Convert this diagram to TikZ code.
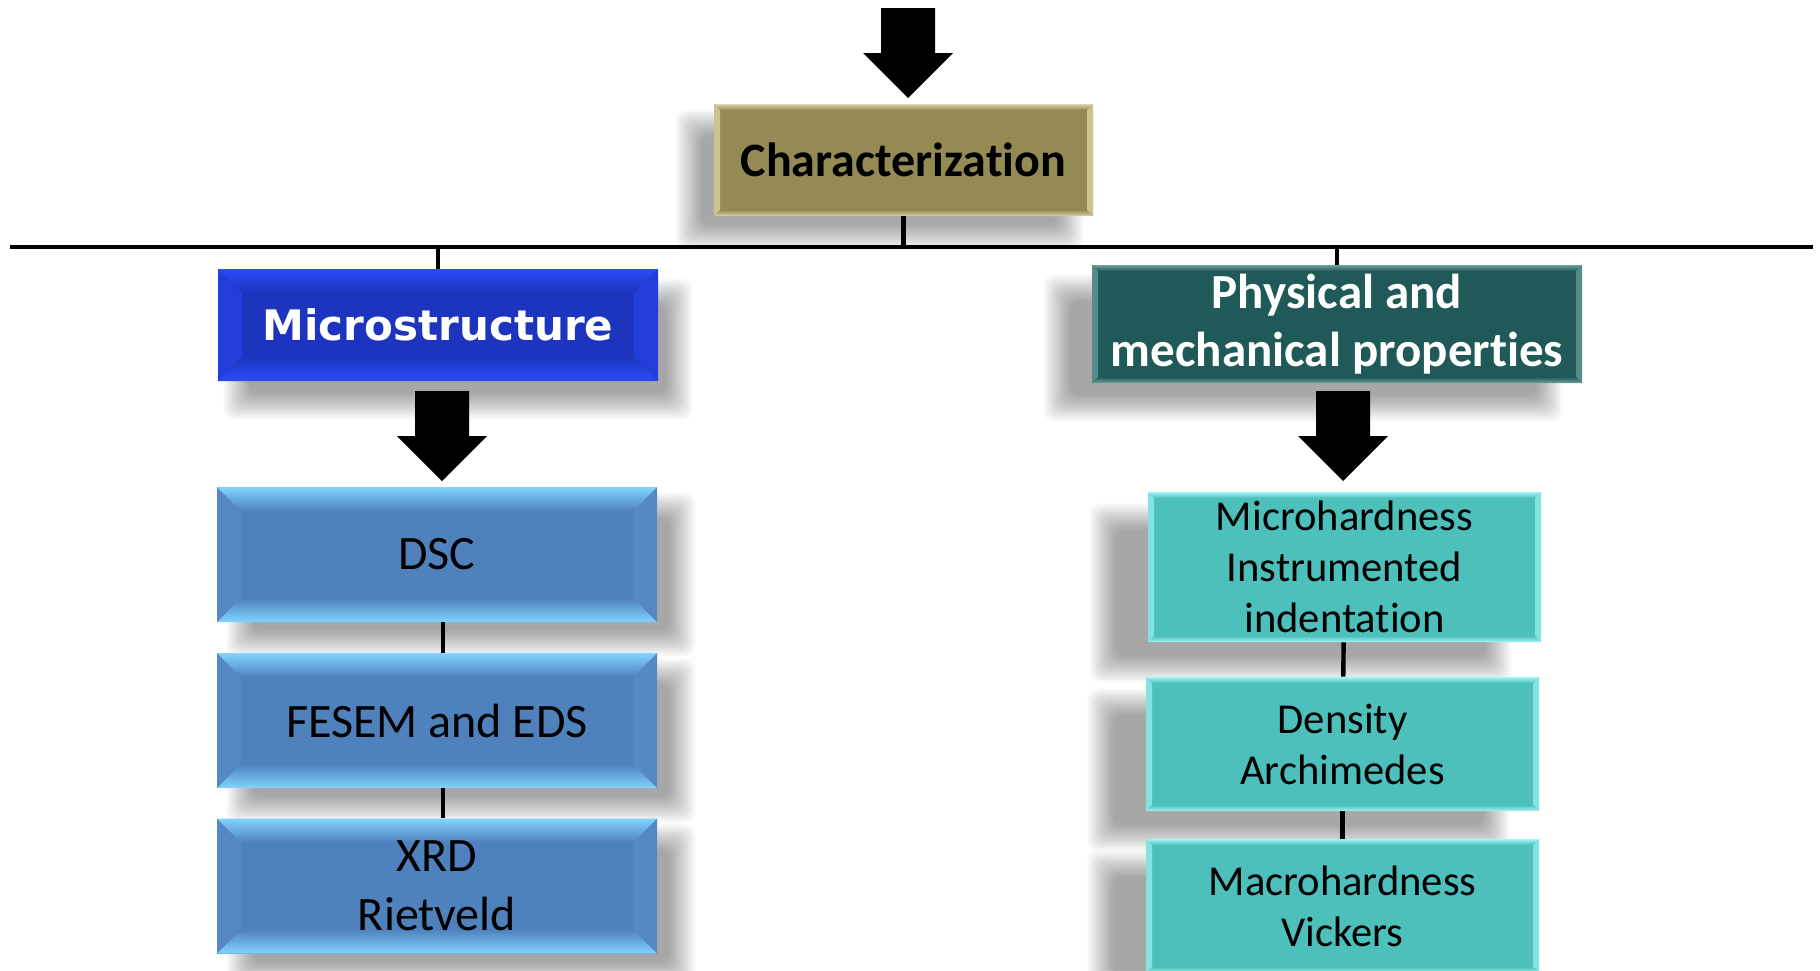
\documentclass[tikz,border=0pt]{standalone}
\usepackage{fontspec}
\setmainfont[Ligatures=NoCommon]{Carlito}
\newfontfamily\verdanafont{DejaVu Sans}
\usetikzlibrary{backgrounds}

\definecolor{charbase}{RGB}{148,138,84}
\definecolor{charedge}{RGB}{222,212,165}
\definecolor{charside}{RGB}{205,195,145}
\definecolor{microbase}{RGB}{28,52,190}
\definecolor{microedge}{RGB}{40,76,248}
\definecolor{microside}{RGB}{33,62,218}
\definecolor{physbase}{RGB}{32,90,88}
\definecolor{physedge}{RGB}{110,160,158}
\definecolor{physside}{RGB}{85,140,137}
\definecolor{leftbase}{RGB}{79,129,189}
\definecolor{leftedge}{RGB}{130,212,255}
\definecolor{leftside}{RGB}{84,137,198}
\definecolor{rightbase}{RGB}{77,192,188}
\definecolor{rightedge}{RGB}{165,245,245}
\definecolor{rightside}{RGB}{130,228,225}

\begin{document}
\begin{tikzpicture}[x=0.5pt, y=-0.5pt, box/.style = {draw=none, align=center, inner sep=0pt}, link/.style = {line width=2.2pt}, bevel/.style n args={4}{fill=#4, path picture={
      \coordinate (bnw) at (path picture bounding box.north west);
      \coordinate (bse) at (path picture bounding box.south east);
      \coordinate (bne) at (bse |- bnw);
      \coordinate (bsw) at (bnw |- bse);
      \fill[#3] (bnw) -- ([shift={(#1,-#1)}]bnw) -- ([shift={(#1,#1)}]bsw) -- (bsw) -- cycle;
      \fill[#3] (bne) -- ([shift={(-#1,-#1)}]bne) -- ([shift={(-#1,#1)}]bse) -- (bse) -- cycle;
      \shade[top color=#2, bottom color=#4] (bnw) -- (bne) -- ([shift={(-#1,-#1)}]bne) -- ([shift={(#1,-#1)}]bnw) -- cycle;
      \shade[top color=#4, bottom color=#2] (bsw) -- (bse) -- ([shift={(-#1,#1)}]bse) -- ([shift={(#1,#1)}]bsw) -- cycle;}},
    charbox/.style = {box, bevel={3pt}{charedge}{charside}{charbase}, minimum width=189.5pt, minimum height=56pt, font=\bfseries\fontsize{24}{28}\selectfont},
    microbox/.style = {box, bevel={12pt}{microedge}{microside}{microbase}, minimum width=220pt, minimum height=56pt, text=white, font=\verdanafont\bfseries\fontsize{21}{26}\selectfont},
    physbox/.style = {box, bevel={3pt}{physedge}{physside}{physbase}, minimum width=245pt, minimum height=59pt, text=white, font=\bfseries\fontsize{24.5}{29}\selectfont},
    leftbox/.style = {box, bevel={12pt}{leftedge}{leftside}{leftbase}, minimum width=220pt, minimum height=67.5pt, font=\fontsize{24}{29.5}\selectfont},
    rightbox/.style = {box, bevel={3pt}{rightedge}{rightside}{rightbase}, minimum width=196.5pt, minimum height=67pt, font=\fontsize{21.3}{25.5}\selectfont},
    downarrow/.pic = {\fill[black] (-27,0) -- (27,0) -- (27,45) -- (45,45) -- (0,90) -- (-45,45) -- (-27,45) -- cycle;}]

    \useasboundingbox (0,0) rectangle (1820,970);
    \clip (0,0) rectangle (1820,970);

    % boxes
    \node[charbox] (char) at (903.5,160) {Characterization};
    \node[microbox] (micro) at (438,325) {Microstructure};
    \node[physbox] (phys) at (1337,324) {Physical and\\mechanical properties};
    \node[leftbox] (dsc) at (437,554.5) {DSC};
    \node[leftbox] (fesem) at (437,720.5) {FESEM and EDS};
    \node[leftbox] (xrd) at (437,886) {XRD\\Rietveld};
    \node[rightbox, minimum height=75pt] (microh) at (1344.5,567) {Microhardness\\Instrumented\\indentation};
    \node[rightbox] (dens) at (1342.5,744) {Density\\Archimedes};
    \node[rightbox] (macroh) at (1342.5,906) {Macrohardness\\Vickers};

    % soft shadows
    \begin{scope}[on background layer]
    \fill[white] (0,0) rectangle (1820,970);
    \foreach \n/\dx/\dy in {char/-12/-10, micro/10/-12, phys/-17/-12, dsc/12/-10, fesem/12/-10, xrd/12/-10, microh/-22/-13, dens/-22/-13, macroh/-22/-13}
      \foreach \k in {0,...,13} {
        \pgfmathsetmacro\r{7-\k}
        \fill[black, opacity=0.027, rounded corners=5pt] ([shift={({\dx pt-\r pt},{\dy pt+\r pt})}]\n.north west) rectangle ([shift={({\dx pt+\r pt},{\dy pt-\r pt})}]\n.south east);
      }
    \end{scope}

    % connectors
    \coordinate (busl) at (10,247);
    \coordinate (busr) at (1813,247);
    \draw[link] (busl) -- (busr);
    \draw[link] (char) -- (char |- busl);
    \draw[link] (micro) -- (micro |- busl);
    \draw[link] (phys) -- (phys |- busl);
    \draw[link] ([xshift=3pt]dsc.south) -- ([xshift=3pt]fesem.north);
    \draw[link] ([xshift=3pt]fesem.south) -- ([xshift=3pt]xrd.north);
    \draw[link] (microh) -- (dens);
    \draw[link] (dens) -- (macroh);

    % block arrows
    \pic at (908,8) {downarrow};
    \pic at (442,391) {downarrow};
    \pic at (1343,391) {downarrow};
\end{tikzpicture}
\end{document}
